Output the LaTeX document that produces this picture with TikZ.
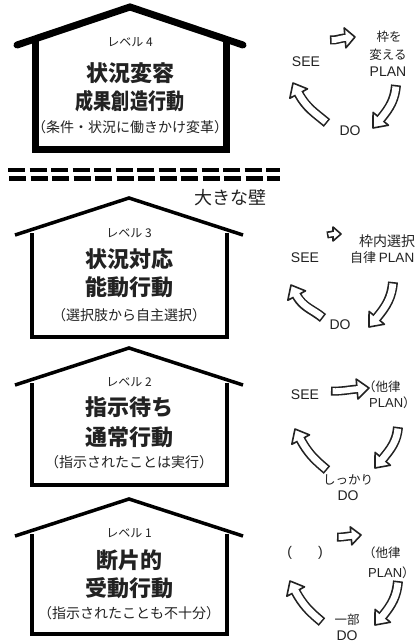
\documentclass[tikz,border=0pt]{standalone}
\usepackage{fontspec}
\setmainfont{Liberation Sans}
\newfontfamily\jp{Noto Sans CJK JP}
\usetikzlibrary{calc}
\definecolor{ink}{HTML}{222222}
% hollow curved arrow: #1 tail, #2 out, #3 in, #4 tip, #5 head length, #6 head half width, #7 body width
\newcommand\harr[7]{%
  \fill[white,draw=ink,line width=1.6pt,line join=round] (#4) -- ($(#4)+(#3:#5)+(#3+90:#6)$) -- ($(#4)+(#3:#5)+(#3-90:#6)$) -- cycle;
  \draw[ink,line width=#7] (#1) to[out=#2,in=#3] ($(#4)+(#3:#5)$);
  \draw[white,line width=#7-3.2pt,shorten <=1.6pt,shorten >=-1.9pt] (#1) to[out=#2,in=#3] ($(#4)+(#3:#5)$);
}
\begin{document}
\begin{tikzpicture}[x=1pt,y=1pt,
  big/.style={font=\jp\bfseries\fontsize{22}{26}\selectfont,text=ink,inner sep=0pt},
  sub/.style={font=\jp\fontsize{14}{16}\selectfont,text=ink,inner sep=0pt},
  lvl/.style={font=\jp\fontsize{12}{14}\selectfont,text=ink,inner sep=0pt},
  lat/.style={font=\fontsize{14}{16}\selectfont,text=ink,inner sep=0pt},
  jps/.style={font=\jp\fontsize{12.5}{14}\selectfont,text=ink,inner sep=0pt},
  jpm/.style={font=\jp\fontsize{14}{16}\selectfont,text=ink,inner sep=0pt},
  thick4/.style={line width=7pt,draw=black},
  thin/.style={line width=3.5pt,draw=black,line join=miter},
]
\clip (0,0) rectangle (418,-644);
\fill[white] (0,0) rectangle (418,-644);

% ---------- House 4 ----------
\draw[thick4,line cap=round,line join=miter] (17,-45) -- (130,-7) -- (243,-45);
\draw[thick4,line join=miter] (35,-40) -- (35,-150) -- (226,-150) -- (226,-40);
\node[lvl] (l4) at (130,-42) {レベル 4};
\node[big] (t4a) at (130,-73) {状況変容};
\node[big] (t4b) at (130,-101) {\scalebox{0.82}[1]{成果創造行動}};
\node[sub] (s4) at (130,-127) {（条件・状況に働きかけ変革）};

% ---------- Wall ----------
\draw[line width=4.5pt,dash pattern=on 17pt off 4.5pt] (8,-170) -- (280,-170);
\draw[line width=4.5pt,dash pattern=on 17pt off 4.5pt] (9,-178.5) -- (280,-178.5);
\node[font=\jp\fontsize{18}{20}\selectfont,text=ink,inner sep=0pt] (wall) at (230,-198) {大きな壁};

% ---------- House 3 ----------
\draw[thin] (15,-235) -- (129,-198) -- (243,-235);
\draw[thin] (32,-233) -- (32,-337) -- (227,-337) -- (227,-233);
\node[lvl] (l3) at (129,-233) {レベル 3};
\node[big] (t3a) at (129,-259) {状況対応};
\node[big] (t3b) at (129,-287) {能動行動};
\node[sub] (s3) at (129,-315) {（選択肢から自主選択）};

% ---------- House 2 ----------
\draw[thin] (15,-385) -- (129,-348) -- (243,-385);
\draw[thin] (32,-383) -- (32,-485) -- (227,-485) -- (227,-383);
\node[lvl] (l2) at (129,-382) {レベル 2};
\node[big] (t2a) at (129,-407) {指示待ち};
\node[big] (t2b) at (129,-437) {通常行動};
\node[sub] (s2) at (129,-462) {（指示されたことは実行）};

% ---------- House 1 ----------
\draw[thin] (15,-536) -- (129,-499) -- (243,-536);
\draw[thin] (32,-534) -- (32,-634) -- (227,-634) -- (227,-534);
\node[lvl] (l1) at (129,-533) {レベル 1};
\node[big] (t1a) at (129,-560) {断片的};
\node[big] (t1b) at (129,-588) {受動行動};
\node[sub] (s1) at (129,-613) {（指示されたことも不十分）};

% ---------- Cycle 4 ----------
\node[lat] (see4) at (306,-62) {SEE};
\node[jps] (p4a) at (389,-37) {枠を};
\node[jps] (p4b) at (388,-55) {変える};
\node[lat] (plan4) at (388,-72) {PLAN};
\node[lat] (do4) at (350,-131) {DO};
\harr{330,-40}{-5}{185}{355,-37}{10}{10}{9pt}
\harr{396,-85}{-95}{50}{373,-128}{12}{10}{10pt}
\harr{327,-123}{140}{-62}{293,-83}{12}{10}{10pt}

% ---------- Cycle 3 ----------
\node[jpm,anchor=west] (p3a) at (359,-241) {枠内選択};
\node[anchor=west,inner sep=0pt] (p3b) at (350,-258) {{\jp\fontsize{13}{15}\selectfont\color{ink}自律} {\fontsize{13.5}{16}\selectfont\color{ink}PLAN}};
\node[lat] (see3) at (305,-258) {SEE};
\node[lat] (do3) at (340,-325) {DO};
\harr{327,-235}{0}{180}{341,-234}{8}{7}{7pt}
\harr{393,-282}{-95}{50}{369,-327}{12}{10}{10pt}
\harr{323,-318}{140}{-62}{291,-285}{12}{10}{10pt}

% ---------- Cycle 2 ----------
\node[lat] (see2) at (305,-395) {SEE};
\node[jps,anchor=west] (p2a) at (363,-387) {（他律};
\node[anchor=west,inner sep=0pt] (p2b) at (369,-403) {{\fontsize{13}{15}\selectfont\color{ink}PLAN}{\jp\fontsize{12.5}{14}\selectfont\color{ink}）}};
\node[jps] (d2a) at (348,-480) {しっかり};
\node[lat] (do2) at (348,-496) {DO};
\harr{331,-391}{-3}{185}{369,-388}{12}{10}{9pt}
\harr{398,-427}{-95}{50}{375,-468}{12}{10}{10pt}
\harr{327,-470}{140}{-62}{295,-429}{12}{10}{10pt}

% ---------- Cycle 1 ----------
\node[lat] (see1) at (305,-553) {(\hspace{26pt})};
\node[jps,anchor=west] (p1a) at (363,-553) {（他律};
\node[anchor=west,inner sep=0pt] (p1b) at (368,-573) {{\fontsize{13}{15}\selectfont\color{ink}PLAN}{\jp\fontsize{12.5}{14}\selectfont\color{ink}）}};
\node[jps] (d1a) at (347,-620) {一部};
\node[lat] (do1) at (347,-636) {DO};
\harr{337,-537}{-3}{185}{361,-535}{10}{9}{9pt}
\harr{398,-581}{-95}{50}{375,-625}{12}{10}{10pt}
\harr{322,-622}{140}{-62}{290,-581}{12}{10}{10pt}
\end{tikzpicture}
\end{document}
